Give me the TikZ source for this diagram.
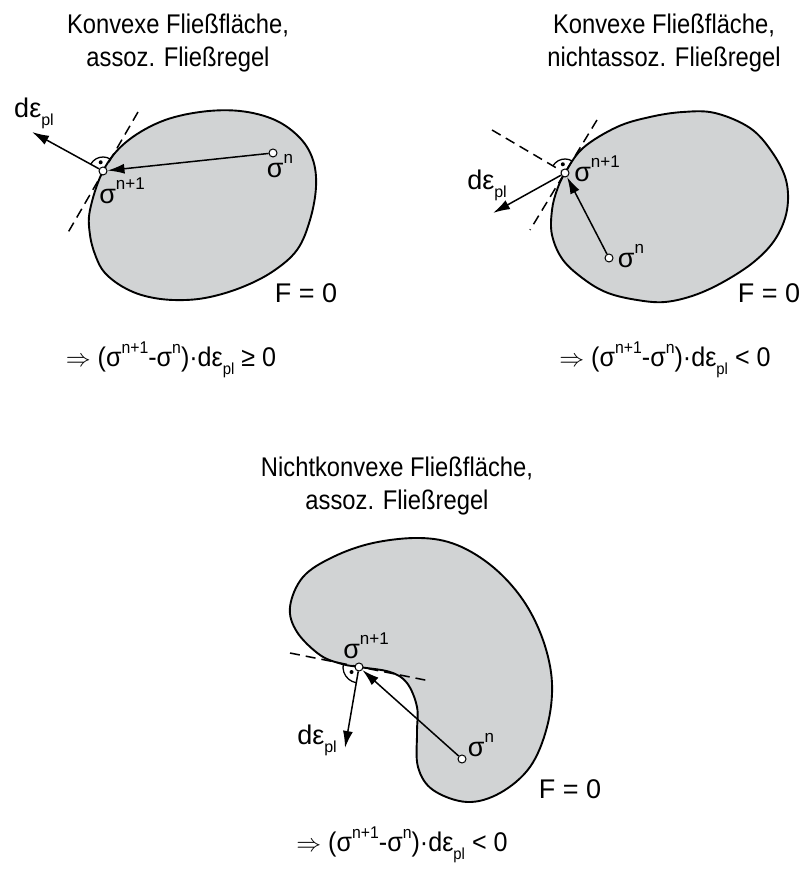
\documentclass[tikz,border=0pt]{standalone}
\usepackage{fontspec}
\setmainfont{Liberation Sans}
\newfontfamily\schmal[FakeStretch=0.88]{Liberation Sans}
\newfontfamily\regelfont[FakeStretch=0.93]{Liberation Sans}
\usetikzlibrary{arrows.meta}
\definecolor{flaechegrau}{HTML}{D1D3D4}
\newcommand\hoch[1]{\raisebox{0.5em}{\fontsize{17}{17}\selectfont #1}}
\newcommand\tief[1]{\raisebox{-0.3em}{\fontsize{16}{16}\selectfont #1}}
\tikzset{
  >={Latex[length=17pt,width=10pt]},
  surface/.style={draw=black, line width=1.9pt, fill=flaechegrau},
  tangent/.style={line width=1.5pt, dash pattern=on 10pt off 6pt},
  flow/.style={->, line width=1.5pt},
  state/.style={circle, draw=black, fill=white, line width=1pt, inner sep=0pt, minimum size=8pt},
  lbl/.style={inner sep=0pt, font=\fontsize{27}{30}\selectfont},
  regel/.style={inner sep=0pt, font=\regelfont\fontsize{27}{30}\selectfont},
  ttl/.style={inner sep=0pt, align=center, font=\schmal\fontsize{27}{33}\selectfont},
  rangle/.style={line width=1.3pt},
}
\begin{document}
\begin{tikzpicture}[x=1pt, y=1pt]
\path[use as bounding box] (0,0) rectangle (805,873);

% konvex, assoziiert
\node[ttl] (titel1) at (178,830) {Konvexe Fließfläche,\\assoz. Fließregel};
\draw[surface] plot[smooth cycle, tension=0.6] coordinates {
  (103,702) (125,730) (160,751) (200,761) (240,762) (275,753) (300,735)
  (313,713) (316,686) (310,653) (297,623) (272,601) (240,585) (205,575)
  (173,573) (145,577) (123,586) (105,600) (96,616) (90,638) (90,663)};
\coordinate (t1a) at (138,761);
\coordinate (t1b) at (66,637);
\draw[tangent] (t1a) -- (t1b);
\node[state] (s1) at (103,702) {};
\node[state] (n1) at (273,720) {};
\coordinate (e1) at (32,741);
\draw[flow] (n1) -- (s1);
\draw[flow] (s1) -- (e1);
\draw[rangle] (s1) ++(59:14) arc[start angle=59, end angle=151, radius=14];
\fill (s1) ++(105:9) circle[radius=2];
\node[lbl] (de1) at (34,760) {dε\tief{pl}};
\node[lbl] (ls1) at (122,682) {σ\hoch{n+1}};
\node[lbl] (ln1) at (280,707) {σ\hoch{n}};
\node[lbl] (f1) at (306,580) {F = 0};
\node[regel] (regel1) at (171,513) {$\Rightarrow$ (σ\hoch{n+1}-σ\hoch{n})·dε\tief{pl} ≥ 0};

% konvex, nichtassoziiert
\node[ttl] (titel2) at (664,830) {Konvexe Fließfläche,\\nichtassoz. Fließregel};
\draw[surface] plot[smooth cycle, tension=0.6] coordinates {
  (565,700) (583,725) (617,746) (650,756) (683,761) (715,760) (750,745)
  (772,721) (786,693) (787,663) (776,635) (755,612) (725,592) (695,578)
  (665,571) (637,573) (608,580) (585,593) (563,613) (552,638) (552,663)
  (557,683)};
\coordinate (t2a) at (597,753);
\coordinate (t2b) at (530,643);
\coordinate (t2c) at (492,743);
\draw[tangent] (t2a) -- (t2b);
\node[state] (s2) at (565,700) {};
\draw[tangent] (t2c) -- (s2);
\node[state] (n2) at (609,615) {};
\coordinate (e2) at (493,660);
\draw[flow] (n2) -- (s2);
\draw[flow] (s2) -- (e2);
\draw[rangle] (s2) ++(59:14) arc[start angle=59, end angle=150, radius=14];
\fill (s2) ++(104:9) circle[radius=2];
\node[lbl] (de2) at (487,688) {dε\tief{pl}};
\node[lbl] (ls2) at (597,704) {σ\hoch{n+1}};
\node[lbl] (ln2) at (631,617) {σ\hoch{n}};
\node[lbl] (f2) at (769,580) {F = 0};
\node[regel] (regel2) at (665,513) {$\Rightarrow$ (σ\hoch{n+1}-σ\hoch{n})·dε\tief{pl} < 0};

% nichtkonvex, assoziiert
\node[ttl] (titel3) at (397,387) {Nichtkonvexe Fließfläche,\\assoz. Fließregel};
\draw[surface] plot[smooth cycle, tension=0.6] coordinates {
  (359,206) (390,201) (407,190) (417,166) (417,140) (418,106) (433,83)
  (467,71) (500,80) (530,106) (547,146) (552,190) (543,233) (523,273)
  (493,306) (457,328) (420,335) (373,330) (333,316) (303,296) (290,266)
  (297,241) (320,218) (342,209)};
\coordinate (t3a) at (290,220);
\coordinate (t3b) at (430,192);
\draw[tangent] (t3a) -- (t3b);
\node[state] (s3) at (359,206) {};
\node[state] (n3) at (462,114) {};
\coordinate (e3) at (345,125);
\draw[flow] (n3) -- (s3);
\draw[flow] (s3) -- (e3);
\draw[rangle] (s3) ++(169:16) arc[start angle=169, end angle=260, radius=16];
\fill (s3) ++(214:9) circle[radius=2];
\node[lbl] (de3) at (317,133) {dε\tief{pl}};
\node[lbl] (ls3) at (366,227) {σ\hoch{n+1}};
\node[lbl] (ln3) at (481,128) {σ\hoch{n}};
\node[lbl] (f3) at (570,84) {F = 0};
\node[regel] (regel3) at (402,28) {$\Rightarrow$ (σ\hoch{n+1}-σ\hoch{n})·dε\tief{pl} < 0};
\end{tikzpicture}
\end{document}
